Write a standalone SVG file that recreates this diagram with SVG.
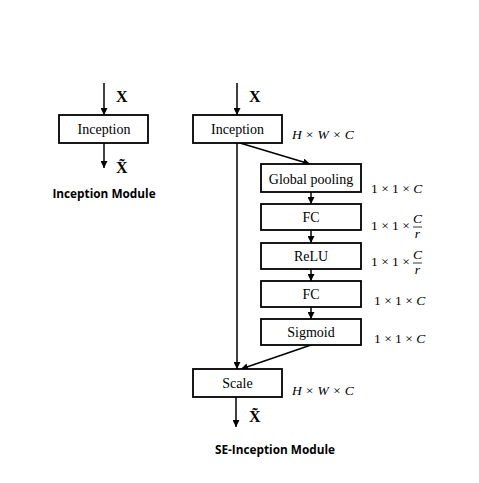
<svg xmlns="http://www.w3.org/2000/svg" width="479" height="483" viewBox="0 0 479 483">
<defs>
<marker id="ah" viewBox="0 0 10 10" refX="10" refY="5" markerWidth="7" markerHeight="7" markerUnits="userSpaceOnUse" orient="auto">
<path d="M0,0 L10,5 L0,10 z" fill="#000"/>
</marker>
<style>
.box{fill:#fff;stroke:#000;stroke-width:1.8}
.t{font-family:"Liberation Serif","Times New Roman",serif;font-size:14px;text-anchor:middle;fill:#000}
.x{font-family:"Liberation Serif","Times New Roman",serif;font-size:16px;font-weight:bold;fill:#000}
.d{font-family:"Liberation Serif","Times New Roman",serif;font-size:13.5px;fill:#000}
.i{font-style:italic}
.cap{font-family:"Open Sans","Liberation Sans",sans-serif;font-size:11.8px;font-weight:bold;text-anchor:middle;fill:#000}
.c{fill:none;stroke:#000;stroke-width:1.5}
</style>
</defs>
<rect width="479" height="483" fill="#fff"/>
<g id="connectors">
<line class="c" x1="104" y1="83" x2="104" y2="115" marker-end="url(#ah)"/>
<line class="c" x1="104" y1="143" x2="104" y2="168" marker-end="url(#ah)"/>
<line class="c" x1="237" y1="83" x2="237" y2="115" marker-end="url(#ah)"/>
<line class="c" x1="237" y1="143" x2="237" y2="369" marker-end="url(#ah)"/>
<line class="c" x1="240" y1="143" x2="310" y2="164" marker-end="url(#ah)"/>
<line class="c" x1="311" y1="192" x2="311" y2="204" marker-end="url(#ah)"/>
<line class="c" x1="311" y1="230" x2="311" y2="243" marker-end="url(#ah)"/>
<line class="c" x1="311" y1="269" x2="311" y2="281" marker-end="url(#ah)"/>
<line class="c" x1="311" y1="307" x2="311" y2="319" marker-end="url(#ah)"/>
<line class="c" x1="311" y1="345" x2="241" y2="369" marker-end="url(#ah)"/>
<line class="c" x1="236" y1="397" x2="236" y2="427" marker-end="url(#ah)"/>
</g>
<g id="left-inception">
<rect class="box" x="59" y="115" width="89" height="28"/>
<text class="t" x="104" y="134">Inception</text>
</g>
<text class="x" x="116" y="102">X</text>
<text class="x" x="116" y="173">X̃</text>
<text class="cap" x="104" y="198">Inception Module</text>
<g id="se-inception">
<rect class="box" x="193" y="115" width="89" height="28"/>
<text class="t" x="237.5" y="134">Inception</text>
</g>
<text class="x" x="249" y="102">X</text>
<text class="d i" x="292" y="139">H × W × C</text>
<g id="global-pooling">
<rect class="box" x="261" y="164" width="100" height="28"/>
<text class="t" x="311" y="184">Global pooling</text>
</g>
<g id="fc1">
<rect class="box" x="261" y="204" width="100" height="26"/>
<text class="t" x="311" y="222">FC</text>
</g>
<g id="relu">
<rect class="box" x="261" y="243" width="100" height="26"/>
<text class="t" x="311" y="261">ReLU</text>
</g>
<g id="fc2">
<rect class="box" x="261" y="281" width="100" height="26"/>
<text class="t" x="311" y="299">FC</text>
</g>
<g id="sigmoid">
<rect class="box" x="261" y="319" width="100" height="26"/>
<text class="t" x="311" y="337">Sigmoid</text>
</g>
<g id="scale">
<rect class="box" x="193" y="369" width="89" height="28"/>
<text class="t" x="237.5" y="388">Scale</text>
</g>
<text class="x" x="249" y="422">X̃</text>
<text class="d i" x="292" y="395">H × W × C</text>
<text class="d" x="371" y="193">1 × 1 × <tspan class="i">C</tspan></text>
<text class="d" x="371" y="230">1 × 1 ×</text>
<text class="d i" x="417.5" y="223" text-anchor="middle">C</text>
<line x1="413" y1="227" x2="422" y2="227" stroke="#000" stroke-width="0.8"/>
<text class="d i" x="417.5" y="238" text-anchor="middle">r</text>
<text class="d" x="371" y="266">1 × 1 ×</text>
<text class="d i" x="417.5" y="259" text-anchor="middle">C</text>
<line x1="413" y1="263" x2="422" y2="263" stroke="#000" stroke-width="0.8"/>
<text class="d i" x="417.5" y="274" text-anchor="middle">r</text>
<text class="d" x="374" y="305">1 × 1 × <tspan class="i">C</tspan></text>
<text class="d" x="374" y="343">1 × 1 × <tspan class="i">C</tspan></text>
<text class="cap" x="275" y="454">SE-Inception Module</text>
</svg>
